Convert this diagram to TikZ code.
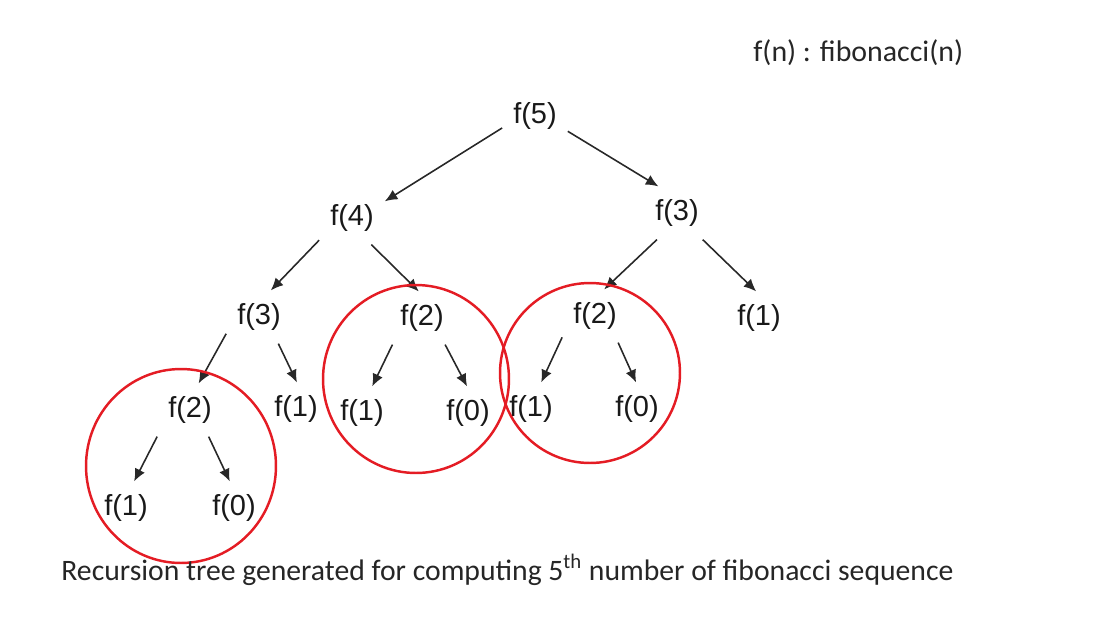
\documentclass[tikz,border=0pt]{standalone}
\usepackage{fontspec}
\setmainfont{Liberation Sans}
\newfontfamily\capfont{Carlito}
\usetikzlibrary{arrows.meta}
\definecolor{ringred}{RGB}{228,28,36}
\definecolor{arrowgray}{RGB}{40,40,40}

\begin{document}
\begin{tikzpicture}[x=0.02cm, y=-0.02cm,
    call/.style={inner sep=0pt, minimum width=1.3cm, minimum height=1.05cm, font=\fontsize{16.5}{18}\selectfont, text=black!90},
    rec/.style={-{Latex[length=2.5mm,width=2.2mm]}, draw=arrowgray, line width=0.9pt},
    ring/.style={draw=ringred, line width=1.4pt},
    note/.style={anchor=base west, inner sep=0pt, text=black!85}]
    \useasboundingbox (0,0) rectangle (1100,630);

    \node[note, font=\capfont\fontsize{17}{20}\selectfont] (key) at (753,61) {f(n) : fibonacci(n)};

    \node[call] (f5) at (535,116) {f(5)};

    \node[call] (f4) at (352,218) {f(4)};
    \node[call] (f3R) at (677,213) {f(3)};

    \node[call] (f3L) at (259,317) {f(3)};
    \node[call] (f2M) at (422,318) {f(2)};
    \node[call] (f2R) at (595,316) {f(2)};
    \node[call] (f1R) at (759,318) {f(1)};

    \node[call] (f2L) at (190,410) {f(2)};
    \node[call] (f1L) at (296,409) {f(1)};
    \node[call] (f1M) at (362,413) {f(1)};
    \node[call] (f0M) at (468,413) {f(0)};
    \node[call] (f1RR) at (531,409) {f(1)};
    \node[call] (f0R) at (637,409) {f(0)};

    \node[call] (f1LL) at (126,508) {f(1)};
    \node[call] (f0L) at (234,508) {f(0)};

    % calls
    \draw[rec] (f5.200) to (f4.27);
    \draw[rec] (f5.335) to (f3R.125);
    \draw[rec] (f4.214) to (f3L.66);
    \draw[rec] (f4.306) to (f2M.97);
    \draw[rec] (f3R.233) to (f2R.71);
    \draw[rec] (f3R.314) to (f1R.96);
    \draw[rec] (f3L.207) to (f2L.72);
    \draw[rec] (f3L.306) to (f1L.88);
    \draw[rec] (f2M.222) to (f1M.69);
    \draw[rec] (f2M.311) to (f0M.92);
    \draw[rec] (f2R.213) to (f1RR.69);
    \draw[rec] (f2R.311) to (f0R.92);
    \draw[rec] (f2L.219) to (f1LL.73);
    \draw[rec] (f2L.305) to (f0L.99);

    % repeated subtrees
    \draw[ring] (181,466) ellipse [x radius=1.9cm, y radius=1.94cm];
    \draw[ring] (416,379) ellipse [x radius=1.86cm, y radius=1.88cm];
    \draw[ring] (590,373) ellipse [x radius=1.8cm, y radius=1.8cm];

    \node[note, font=\capfont\fontsize{16.9}{20}\selectfont] (caption) at (61,580) {Recursion tree generated for computing 5\textsuperscript{th} number of fibonacci sequence};
\end{tikzpicture}
\end{document}
